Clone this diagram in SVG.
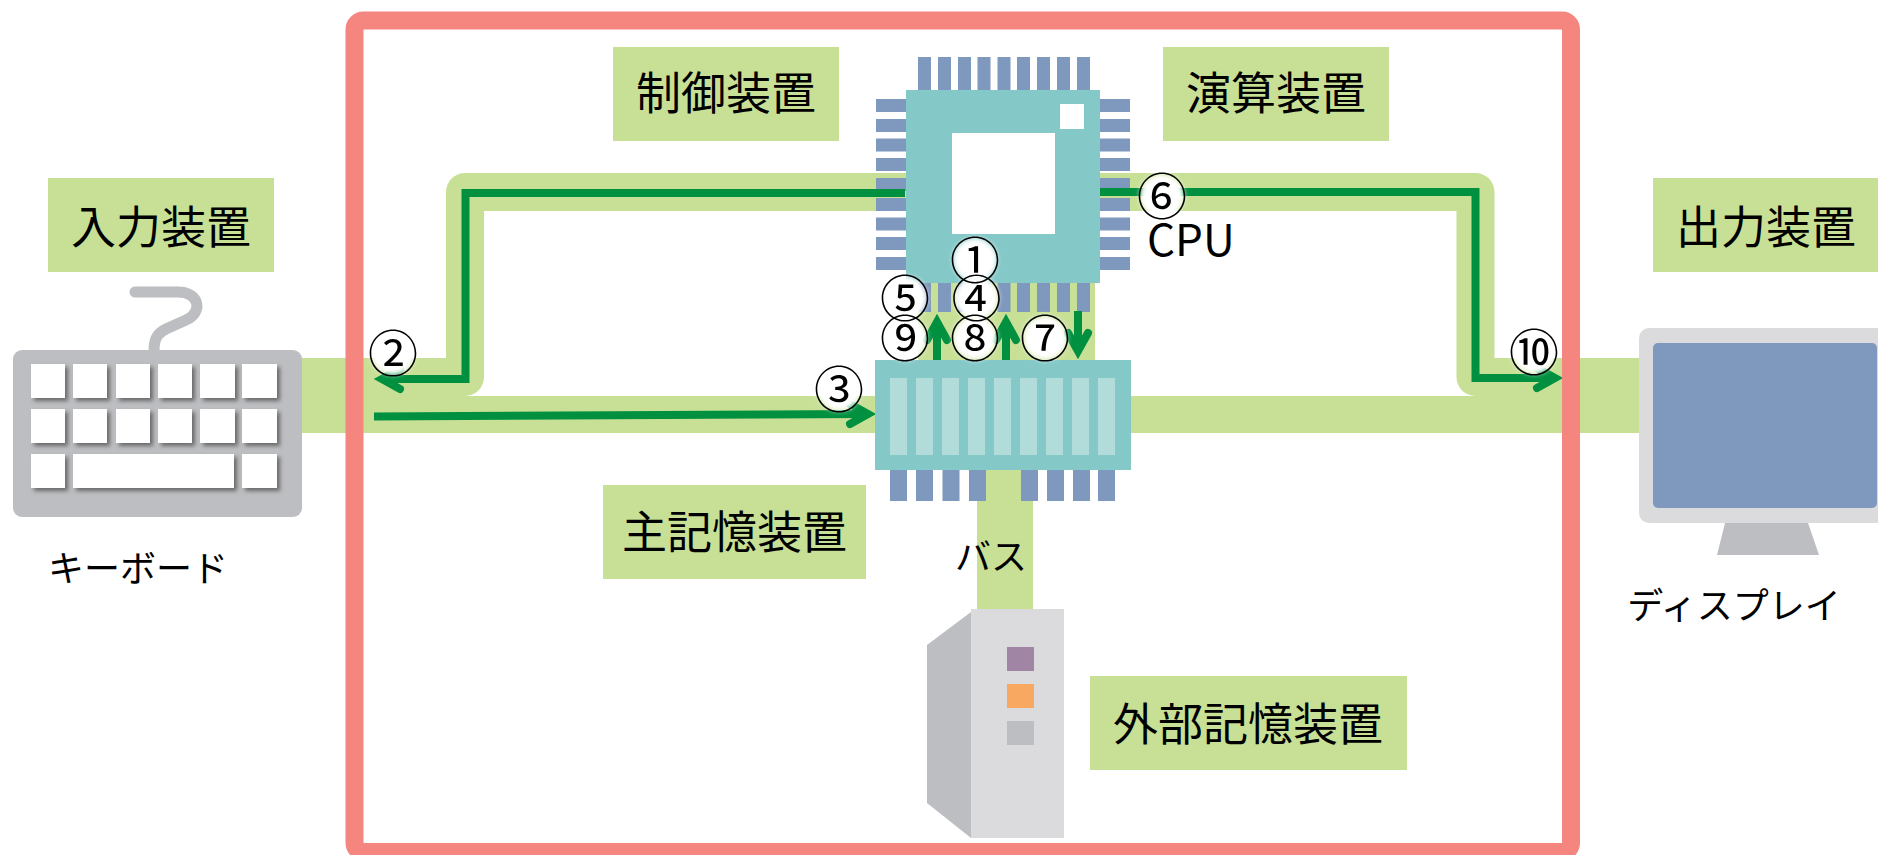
<svg xmlns="http://www.w3.org/2000/svg" width="1878" height="855" viewBox="0 0 1878 855">
  <defs>
    <style>
      .band { fill: #C8E096; }
      .bandline { fill: none; stroke: #C8E096; stroke-width: 38; stroke-linejoin: round; }
      .pin { fill: #7F98BD; }
      .teal { fill: #84C8C7; }
      .cell { fill: #B2DCDA; }
      .flow { fill: none; stroke: #009040; stroke-width: 8; stroke-linejoin: miter; }
      .lbl { fill: #C8E096; }
      .key { fill: #FFFFFF; filter: url(#keyShadow); }
      .grey { fill: #BDBEC1; }
      .light { fill: #DBDBDD; }
      text { font-family: "Noto Sans CJK JP", "Noto Sans", sans-serif; fill: #000000; }
      .t45 { font-size: 45px; text-anchor: middle; }
      .t36 { font-size: 36px; text-anchor: middle; }
      .num { font-size: 50px; text-anchor: middle; }
      .halo { fill: #FFFFFF; filter: url(#soft); }
    </style>
    <filter id="keyShadow" x="-20%" y="-20%" width="150%" height="150%">
      <feDropShadow dx="3" dy="3" stdDeviation="2" flood-color="#4D4D4D" flood-opacity="0.75"/>
    </filter>
    <filter id="soft" x="-50%" y="-50%" width="200%" height="200%">
      <feGaussianBlur stdDeviation="2.5"/>
    </filter>
    <marker id="ah" markerUnits="userSpaceOnUse" markerWidth="50" markerHeight="50" viewBox="-25 -25 50 50" refX="0" refY="0" orient="auto" overflow="visible">
      <path d="M-18,-10 L0,0 L-18,10" fill="none" stroke="#009040" stroke-width="8" stroke-linecap="round" stroke-linejoin="miter"/>
    </marker>
  </defs>

  <!-- bus bands -->
  <g id="bus">
    <rect class="band" x="250" y="396" width="1450" height="37"/>
    <path class="bandline" d="M250 377 H465 V192 H1475.5 V377 H1700"/>
    <rect class="band" x="918" y="280" width="177" height="82"/>
    <rect class="band" x="977" y="465" width="56" height="148"/>
  </g>

  <!-- CPU pins (behind the data lines) -->
  <g id="cpu-pins">
    <rect class="pin" x="918" y="57" width="13" height="34"/>
    <rect class="pin" x="938" y="57" width="13" height="34"/>
    <rect class="pin" x="958" y="57" width="13" height="34"/>
    <rect class="pin" x="977.5" y="57" width="13" height="34"/>
    <rect class="pin" x="997.5" y="57" width="13" height="34"/>
    <rect class="pin" x="1017" y="57" width="13" height="34"/>
    <rect class="pin" x="1037" y="57" width="13" height="34"/>
    <rect class="pin" x="1057" y="57" width="13" height="34"/>
    <rect class="pin" x="1077" y="57" width="13" height="34"/>

    <rect class="pin" x="918" y="282" width="13" height="30"/>
    <rect class="pin" x="938" y="282" width="13" height="30"/>
    <rect class="pin" x="958" y="282" width="13" height="30"/>
    <rect class="pin" x="977.5" y="282" width="13" height="30"/>
    <rect class="pin" x="997.5" y="282" width="13" height="30"/>
    <rect class="pin" x="1017" y="282" width="13" height="30"/>
    <rect class="pin" x="1037" y="282" width="13" height="30"/>
    <rect class="pin" x="1057" y="282" width="13" height="30"/>
    <rect class="pin" x="1077" y="282" width="13" height="30"/>

    <rect class="pin" x="876" y="99" width="31" height="13"/>
    <rect class="pin" x="876" y="119" width="31" height="13"/>
    <rect class="pin" x="876" y="138.5" width="31" height="13"/>
    <rect class="pin" x="876" y="158" width="31" height="13"/>
    <rect class="pin" x="876" y="178" width="31" height="13"/>
    <rect class="pin" x="876" y="198" width="31" height="13"/>
    <rect class="pin" x="876" y="217.5" width="31" height="13"/>
    <rect class="pin" x="876" y="237" width="31" height="13"/>
    <rect class="pin" x="876" y="257" width="31" height="13"/>

    <rect class="pin" x="1099" y="99" width="31" height="13"/>
    <rect class="pin" x="1099" y="119" width="31" height="13"/>
    <rect class="pin" x="1099" y="138.5" width="31" height="13"/>
    <rect class="pin" x="1099" y="158" width="31" height="13"/>
    <rect class="pin" x="1099" y="178" width="31" height="13"/>
    <rect class="pin" x="1099" y="198" width="31" height="13"/>
    <rect class="pin" x="1099" y="217.5" width="31" height="13"/>
    <rect class="pin" x="1099" y="237" width="31" height="13"/>
    <rect class="pin" x="1099" y="257" width="31" height="13"/>
  </g>

  <!-- data / control flow -->
  <g id="connectors">
    <path class="flow" d="M905 193 H465.5 V379 H382" marker-end="url(#ah)"/>
    <path class="flow" d="M374 416.5 L868 414" marker-end="url(#ah)"/>
    <path class="flow" d="M1100 192 H1475.5 V378 H1555" marker-end="url(#ah)"/>
    <path class="flow" d="M937 360 V322" marker-end="url(#ah)"/>
    <path class="flow" d="M1006 360 V322" marker-end="url(#ah)"/>
    <path class="flow" d="M1078 311 V351" marker-end="url(#ah)"/>
  </g>

  <!-- CPU body -->
  <g id="cpu">
    <rect class="teal" x="906" y="90" width="194" height="193"/>
    <rect fill="#FFFFFF" x="952" y="133" width="103" height="101"/>
    <rect fill="#FFFFFF" x="1060" y="104" width="24" height="25"/>
  </g>

  <!-- main memory -->
  <g id="memory">
    <rect class="pin" x="890" y="468" width="17" height="33"/>
    <rect class="pin" x="916" y="468" width="17" height="33"/>
    <rect class="pin" x="942.5" y="468" width="17" height="33"/>
    <rect class="pin" x="969" y="468" width="17" height="33"/>
    <rect class="pin" x="1021" y="468" width="17" height="33"/>
    <rect class="pin" x="1047" y="468" width="17" height="33"/>
    <rect class="pin" x="1073" y="468" width="17" height="33"/>
    <rect class="pin" x="1098" y="468" width="17" height="33"/>
    <rect class="teal" x="875" y="360" width="256" height="110"/>
    <rect class="cell" x="890" y="378" width="17" height="77"/>
    <rect class="cell" x="916" y="378" width="17" height="77"/>
    <rect class="cell" x="942" y="378" width="17" height="77"/>
    <rect class="cell" x="968" y="378" width="17" height="77"/>
    <rect class="cell" x="994" y="378" width="17" height="77"/>
    <rect class="cell" x="1020" y="378" width="17" height="77"/>
    <rect class="cell" x="1046" y="378" width="17" height="77"/>
    <rect class="cell" x="1072" y="378" width="17" height="77"/>
    <rect class="cell" x="1098" y="378" width="17" height="77"/>
  </g>

  <!-- computer boundary -->
  <g id="frame">
    <rect x="354.5" y="20.5" width="1216.5" height="831.5" rx="9" fill="none" stroke="#F4857F" stroke-width="18"/>
  </g>

  <!-- keyboard -->
  <g id="keyboard">
    <path d="M135 292 H178 C200 292 203 313 186 320 L166 329 C156 334 154 340 154 352" fill="none" stroke="#BDBEC1" stroke-width="11" stroke-linecap="round"/>
    <rect class="grey" x="13" y="350" width="289" height="167" rx="9"/>
    <rect class="key" x="31" y="364" width="34" height="34"/>
    <rect class="key" x="73" y="364" width="34" height="34"/>
    <rect class="key" x="116" y="364" width="34" height="34"/>
    <rect class="key" x="158" y="364" width="34" height="34"/>
    <rect class="key" x="200" y="364" width="35" height="34"/>
    <rect class="key" x="242" y="364" width="35" height="34"/>
    <rect class="key" x="31" y="409" width="34" height="34"/>
    <rect class="key" x="73" y="409" width="34" height="34"/>
    <rect class="key" x="116" y="409" width="34" height="34"/>
    <rect class="key" x="158" y="409" width="34" height="34"/>
    <rect class="key" x="200" y="409" width="35" height="34"/>
    <rect class="key" x="242" y="409" width="35" height="34"/>
    <rect class="key" x="31" y="454" width="34" height="34"/>
    <rect class="key" x="73" y="454" width="161" height="34"/>
    <rect class="key" x="242" y="454" width="35" height="34"/>
    <text class="t36" x="138" y="582">キーボード</text>
  </g>

  <!-- display -->
  <g id="display">
    <rect class="light" x="1639" y="328" width="270" height="195" rx="10"/>
    <rect x="1653" y="343" width="224" height="165" rx="5" fill="#7F98BD"/>
    <polygon class="grey" points="1725,523 1808,523 1819,555 1717,555"/>
    <text class="t36" x="1734" y="619">ディスプレイ</text>
  </g>

  <!-- external storage -->
  <g id="storage">
    <polygon class="grey" points="927,645 971,612 971,838 927,803"/>
    <rect class="light" x="971" y="609" width="93" height="229"/>
    <rect x="1007" y="647" width="27" height="24" fill="#A085A4"/>
    <rect x="1007" y="684" width="27" height="24" fill="#F9A861"/>
    <rect x="1007" y="721" width="27" height="24" fill="#BDBEC1"/>
  </g>

  <!-- labels -->
  <g id="label-input">
    <rect class="lbl" x="48" y="178" width="226" height="94"/>
    <text class="t45" x="161" y="244">入力装置</text>
  </g>
  <g id="label-control">
    <rect class="lbl" x="613" y="47" width="226" height="94"/>
    <text class="t45" x="726" y="110">制御装置</text>
  </g>
  <g id="label-alu">
    <rect class="lbl" x="1163" y="47" width="226" height="94"/>
    <text class="t45" x="1276" y="110">演算装置</text>
  </g>
  <g id="label-output">
    <rect class="lbl" x="1653" y="178" width="226" height="94"/>
    <text class="t45" x="1766" y="244">出力装置</text>
  </g>
  <g id="label-memory">
    <rect class="lbl" x="603" y="485" width="263" height="94"/>
    <text class="t45" x="734.5" y="549">主記憶装置</text>
  </g>
  <g id="label-storage">
    <rect class="lbl" x="1090" y="676" width="317" height="94"/>
    <text class="t45" x="1248" y="741">外部記憶装置</text>
  </g>
  <g id="label-cpu">
    <text x="1147" y="256" font-size="44">CPU</text>
  </g>
  <g id="label-bus">
    <text class="t36" x="991" y="570">バス</text>
  </g>

  <!-- step numbers -->
  <g id="steps">
    <circle class="halo" cx="975" cy="260" r="22"/>
    <circle class="halo" cx="393" cy="353" r="22"/>
    <circle class="halo" cx="839" cy="389" r="22"/>
    <circle class="halo" cx="976.5" cy="298" r="22"/>
    <circle class="halo" cx="905" cy="298" r="22"/>
    <circle class="halo" cx="1162" cy="196" r="22"/>
    <circle class="halo" cx="1045" cy="338" r="22"/>
    <circle class="halo" cx="975" cy="338" r="22"/>
    <circle class="halo" cx="905" cy="338" r="22"/>
    <circle class="halo" cx="1534" cy="352" r="22"/>
    <text class="num" x="975" y="279">①</text>
    <text class="num" x="393" y="372">②</text>
    <text class="num" x="839" y="408">③</text>
    <text class="num" x="976.5" y="317">④</text>
    <text class="num" x="905" y="317">⑤</text>
    <text class="num" x="1162" y="215">⑥</text>
    <text class="num" x="1045" y="357">⑦</text>
    <text class="num" x="975" y="357">⑧</text>
    <text class="num" x="905" y="357">⑨</text>
    <text class="num" x="1534" y="371">⑩</text>
  </g>
</svg>
